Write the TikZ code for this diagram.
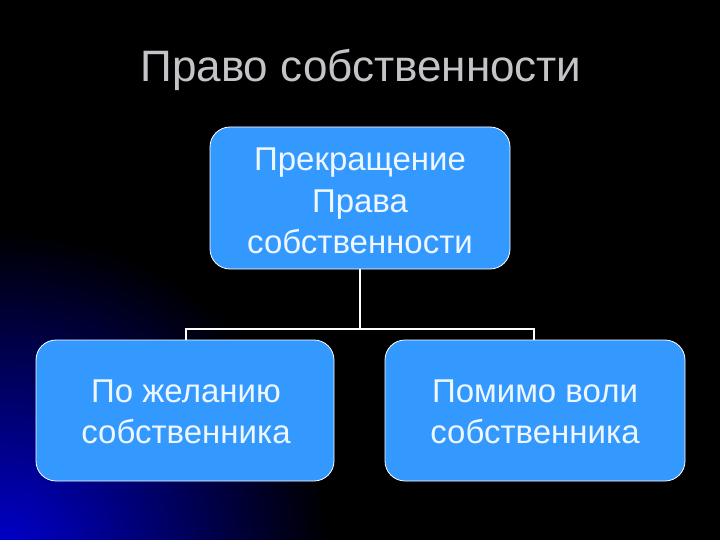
\documentclass[tikz,border=0pt]{standalone}
\usepackage{fontspec}
\setmainfont{Liberation Sans}
\definecolor{boxblue}{HTML}{3399FF}
\definecolor{titlegray}{HTML}{C4C4C8}
\definecolor{boxtext}{HTML}{EEF6FF}
\begin{document}
\begin{tikzpicture}[x=1pt,y=-1pt,
  blockbox/.style={draw=white, line width=0.8pt, fill=boxblue, rounded corners=20pt,
    text=boxtext, align=center, inner sep=0pt},
  blocktext/.style={text=boxtext, align=center, font=\fontsize{33}{41.5}\selectfont, inner sep=0pt},
  link/.style={draw=white, line width=1.6pt}]
\useasboundingbox (0,0) rectangle (720,540);
\fill[black] (0,0) rectangle (720,540);
\begin{scope}
\clip (0,0) rectangle (720,540);
\shade[inner color={rgb,255:red,0;green,0;blue,210}, outer color=black] (0,560) circle (330);
\end{scope}
\node[text=titlegray, font=\fontsize{44}{50}\selectfont] (title) at (361,70) {Право собственности};
\node[blockbox, minimum width=300pt, minimum height=142pt] (top) at (360,198) {};
\node[blocktext] (toptext) at (360,201) {Прекращение\\Права\\собственности};
\node[blockbox, minimum width=298pt, minimum height=141pt] (left) at (185,410.5) {};
\node[blocktext] (lefttext) at (186,412) {По желанию\\собственника};
\node[blockbox, minimum width=300pt, minimum height=141pt] (right) at (535,410.5) {};
\node[blocktext] (righttext) at (535,412) {Помимо воли\\собственника};
\coordinate (mid) at (360,329);
\draw[link] (top.south) -- (mid);
\draw[link] (left.north -| 186,0) |- (mid) -| (right.north -| 534,0);
\end{tikzpicture}
\end{document}
